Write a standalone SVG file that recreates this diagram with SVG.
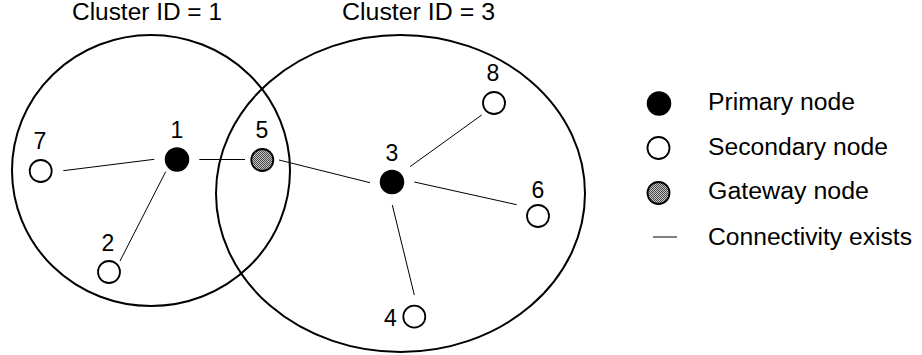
<svg xmlns="http://www.w3.org/2000/svg" width="922" height="355" viewBox="0 0 922 355">
<defs>
<pattern id="dots" width="2" height="2" patternUnits="userSpaceOnUse">
<rect width="2" height="2" fill="#c4c4c4"/>
<rect width="1" height="1" fill="#4a4a4a"/>
<rect x="1" y="1" width="1" height="1" fill="#4a4a4a"/>
</pattern>
</defs>
<style>
text{font-family:"Liberation Sans",Arial,sans-serif;fill:#000}
.lbl{font-size:23px;text-anchor:middle}
.big{font-size:23px}
.cl{fill:none;stroke:#000;stroke-width:2}
.pri{fill:#000;stroke:#000;stroke-width:1.5}
.sec{fill:#fff;stroke:#000;stroke-width:1.8}
.gw{fill:url(#dots);stroke:#000;stroke-width:1.8}
.edge{stroke:#000;stroke-width:1;fill:none}
</style>
<rect width="922" height="355" fill="#fff"/>
<g id="cluster1">
<ellipse class="cl" cx="151" cy="170.5" rx="139" ry="135.5"/>
<text class="big" x="72" y="20" textLength="150" lengthAdjust="spacingAndGlyphs">Cluster ID = 1</text>
</g>
<g id="cluster3">
<ellipse class="cl" cx="400.5" cy="193.5" rx="184.5" ry="158.5"/>
<text class="big" x="342" y="20" textLength="153" lengthAdjust="spacingAndGlyphs">Cluster ID = 3</text>
</g>
<g id="connectors">
<line class="edge" x1="63.3" y1="170.7" x2="154.3" y2="159.3"/>
<line class="edge" x1="199.3" y1="159.5" x2="245" y2="159.5"/>
<line class="edge" x1="165.7" y1="171.7" x2="120" y2="261"/>
<line class="edge" x1="279" y1="160" x2="370" y2="182.7"/>
<line class="edge" x1="410" y1="166.7" x2="481.7" y2="115"/>
<line class="edge" x1="414.3" y1="182" x2="516.7" y2="204.7"/>
<line class="edge" x1="392.3" y1="205" x2="414.3" y2="295"/>
</g>
<g id="node1"><circle class="pri" cx="177" cy="159.5" r="11.5"/><text class="lbl" x="177" y="138">1</text></g>
<g id="node2"><circle class="sec" cx="109" cy="272" r="11"/><text class="lbl" x="108" y="251">2</text></g>
<g id="node3"><circle class="pri" cx="392" cy="182" r="11.5"/><text class="lbl" x="392" y="161">3</text></g>
<g id="node4"><circle class="sec" cx="414.3" cy="316.7" r="11"/><text class="lbl" x="390.5" y="326">4</text></g>
<g id="node5"><circle class="gw" cx="262.3" cy="160" r="11"/><text class="lbl" x="262" y="138">5</text></g>
<g id="node6"><circle class="sec" cx="538" cy="216" r="11"/><text class="lbl" x="538" y="198">6</text></g>
<g id="node7"><circle class="sec" cx="40.7" cy="171" r="11"/><text class="lbl" x="40" y="149">7</text></g>
<g id="node8"><circle class="sec" cx="494" cy="103" r="11"/><text class="lbl" x="493" y="81">8</text></g>
<g id="legend">
<circle class="pri" cx="659" cy="103.5" r="11.5"/>
<text class="big" x="708" y="110" textLength="147" lengthAdjust="spacingAndGlyphs">Primary node</text>
<circle class="sec" cx="658.5" cy="148" r="11"/>
<text class="big" x="708" y="155" textLength="180" lengthAdjust="spacingAndGlyphs">Secondary node</text>
<circle class="gw" cx="658.5" cy="193" r="11"/>
<text class="big" x="708" y="199" textLength="161" lengthAdjust="spacingAndGlyphs">Gateway node</text>
<line class="edge" x1="653" y1="237" x2="677" y2="237"/>
<text class="big" x="708" y="245" textLength="204" lengthAdjust="spacingAndGlyphs">Connectivity exists</text>
</g>
</svg>
